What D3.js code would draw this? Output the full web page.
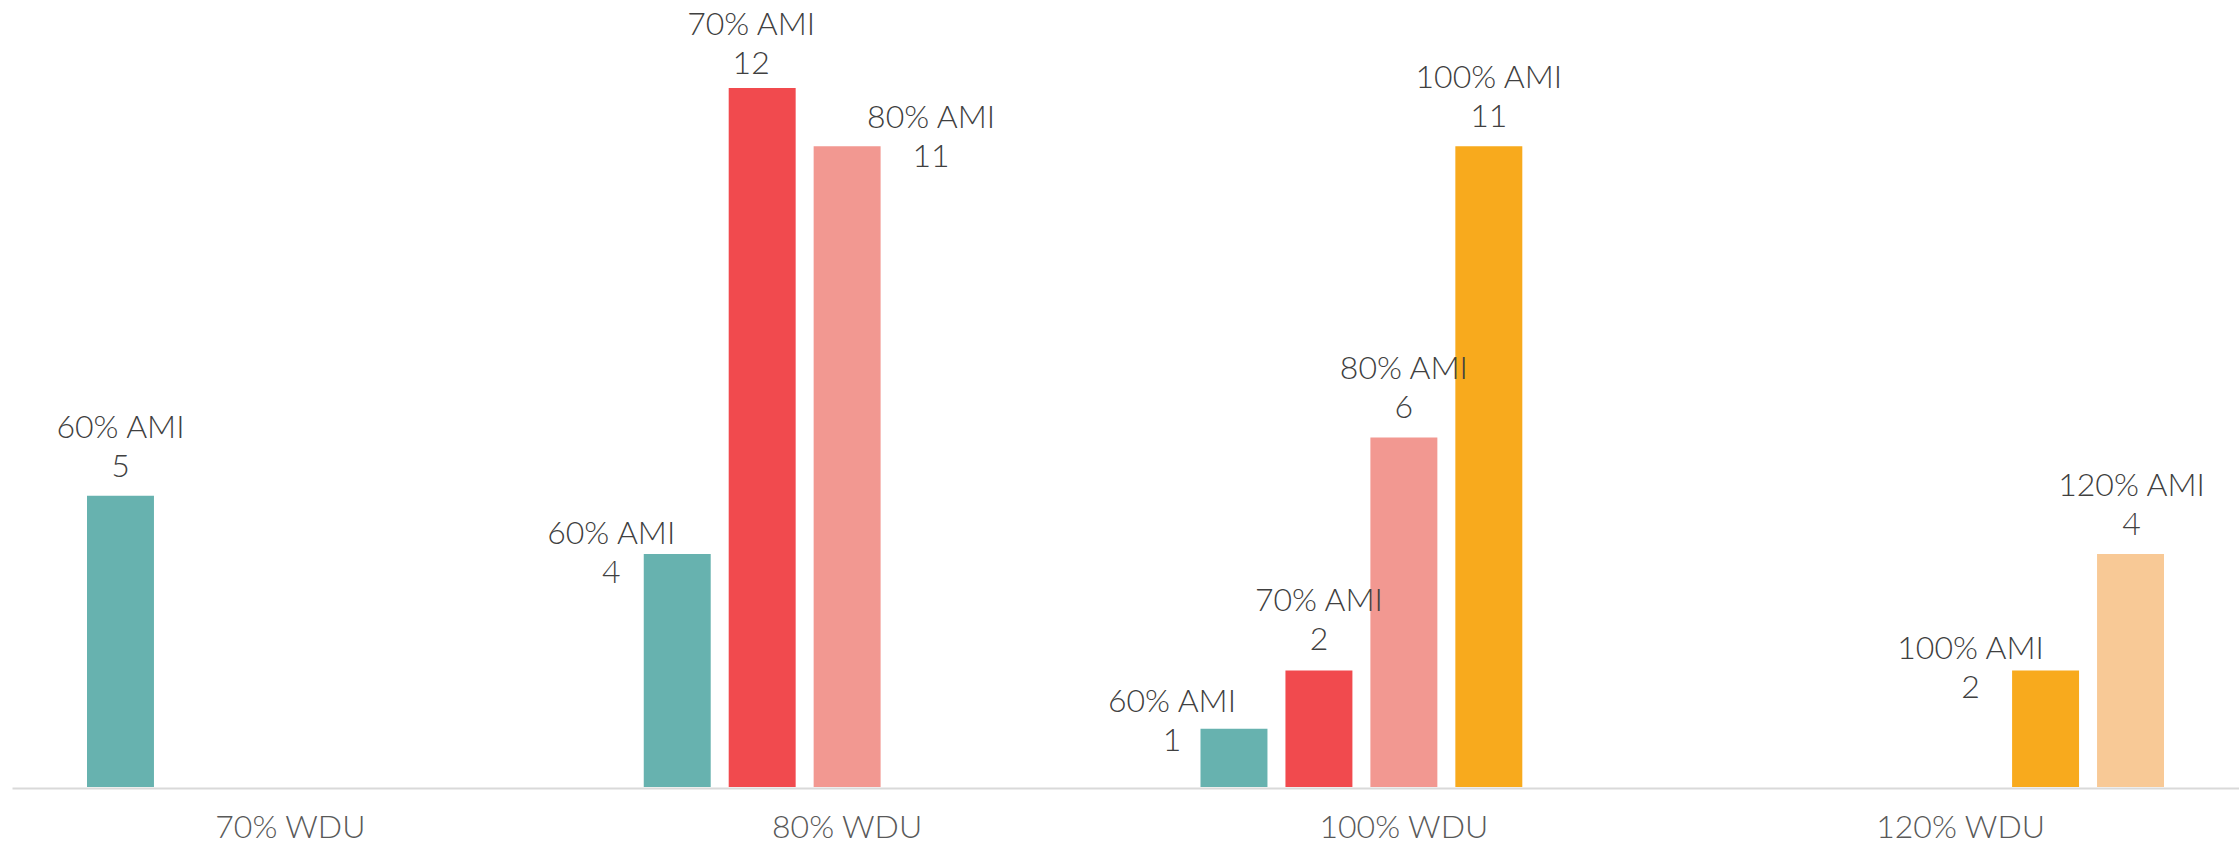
<!DOCTYPE html>
<html>
<head>
<meta charset="utf-8">
<script src="https://cdn.jsdelivr.net/npm/d3@7"></script>
<style>
  html, body { margin: 0; padding: 0; background: #fff; }
  svg { display: block; }
</style>
</head>
<body>
<svg id="chart" width="2239" height="845"></svg>
<script>
// categories and series
var categories = ["70% WDU", "80% WDU", "100% WDU", "120% WDU"];
var series = ["60% AMI", "70% AMI", "80% AMI", "100% AMI", "120% AMI"];
var colors = ["#67b2af", "#f14a4e", "#f29891", "#f8aa1d", "#f8c996"];

// values per series, one per category (null = no bar)
var ami60 = [5, 4, 1, null];
var ami70 = [null, 12, 2, null];
var ami80 = [null, 11, 6, null];
var ami100 = [null, null, 11, 2];
var ami120 = [null, null, null, 4];
var seriesValues = [ami60, ami70, ami80, ami100, ami120];

// manual label nudges [dx from bar centre, dy of 2nd line from bar top]
var labelNudge = {
    "60% AMI|70% WDU": [0, -19],
    "60% AMI|80% WDU": [-66, 29],
    "70% AMI|80% WDU": [-11, -14],
    "80% AMI|80% WDU": [84, 21],
    "60% AMI|100% WDU": [-62, 22],
    "70% AMI|100% WDU": [0, -21],
    "80% AMI|100% WDU": [0, -20],
    "100% AMI|100% WDU": [0, -19],
    "100% AMI|120% WDU": [-75, 27],
    "120% AMI|120% WDU": [1, -19]
};

var svg = d3.select("#chart");
var margins = { left: 12, right: 0, baseline: 787 };
var width = +svg.attr("width");
var fontFamily = "Lato, 'Noto Sans', sans-serif";
var fontSize = "32px";

var bars = [];
series.forEach(function (s, si) {
    seriesValues[si].forEach(function (v, ci) {
        if (v != null) bars.push({ series: s, cat: categories[ci], value: v, color: colors[si] });
    });
});

var x0 = d3.scaleBand()
    .domain(categories)
    .range([margins.left, width - margins.right]);

var groupPad = 75;
var x1 = d3.scaleBand()
    .domain(series)
    .range([groupPad, x0.bandwidth() - groupPad])
    .paddingInner(18 / 85);

var y = d3.scaleLinear()
    .domain([0, 12])
    .range([margins.baseline, 88]);

// bars
svg.append("g")
    .selectAll("rect")
    .data(bars)
    .enter().append("rect")
    .attr("x", d => x0(d.cat) + x1(d.series))
    .attr("y", d => y(d.value))
    .attr("width", x1.bandwidth())
    .attr("height", d => y(0) - y(d.value))
    .attr("fill", d => d.color);

// axis
var axis = svg.append("g")
    .attr("transform", "translate(0," + (margins.baseline + 1) + ")")
    .call(d3.axisBottom(x0).tickSize(0).tickPadding(27));
axis.select(".domain").attr("stroke", "#d9d9d9").attr("stroke-width", 2);
axis.selectAll(".tick text")
    .style("font-family", fontFamily)
    .style("font-weight", 300)
    .style("font-size", fontSize)
    .attr("fill", "#595959");

// data labels: name on top line, value below
var labels = svg.append("g")
    .selectAll("text")
    .data(bars)
    .enter().append("text")
    .attr("text-anchor", "middle")
    .style("font-family", fontFamily)
    .style("font-weight", 300)
    .style("font-size", fontSize)
    .attr("fill", "#404040")
    .attr("transform", function (d) {
        var n = labelNudge[d.series + "|" + d.cat] || [0, -19];
        var cx = x0(d.cat) + x1(d.series) + x1.bandwidth() / 2 + n[0];
        return "translate(" + cx + "," + (y(d.value) + n[1]) + ")";
    });
labels.append("tspan").attr("x", 0).attr("y", -39).text(d => d.series);
labels.append("tspan").attr("x", 0).attr("y", 0).text(d => d.value);
</script>
</body>
</html>
